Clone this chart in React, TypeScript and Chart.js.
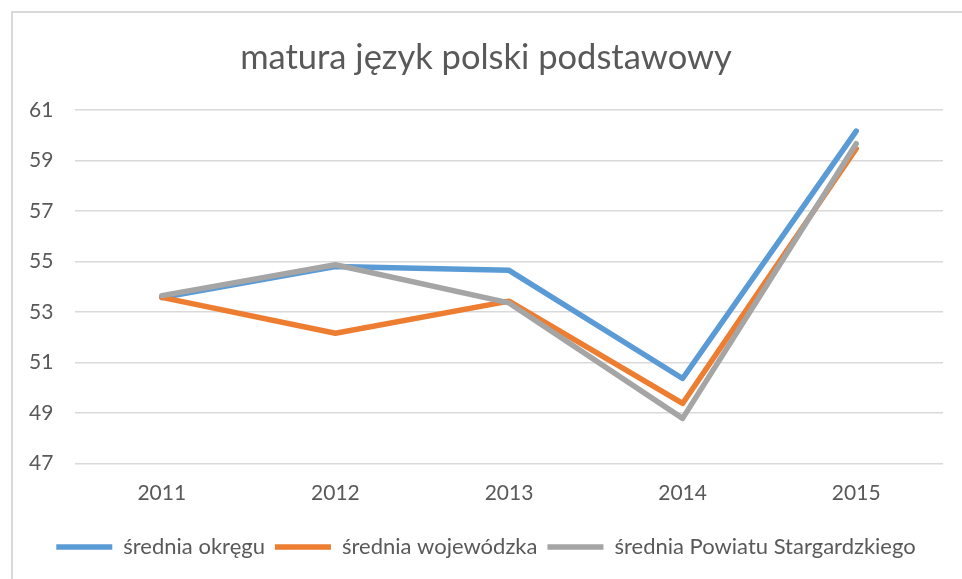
import React, { useEffect, useRef } from "react";
import { Chart, registerables } from "chart.js";

Chart.register(...registerables);

const categories = ["2011", "2012", "2013", "2014", "2015"];
const sredniaOkregu = [53.57, 54.8, 54.65, 50.37, 60.16];
const sredniaWojewodzka = [53.58, 52.16, 53.43, 49.38, 59.46];
const sredniaPowiatu = [53.65, 54.87, 53.36, 48.79, 59.66];
const seriesNames = ["średnia okręgu", "średnia wojewódzka", "średnia Powiatu Stargardzkiego"];
const titleText = "matura język polski podstawowy";
const yMin = 47;
const yMax = 61;
const yStep = 2;

const FONT = "Lato, 'Open Sans', sans-serif";
const TEXT = "#595959";
const GRID = "#d9d9d9";

export default function App() {
  const ref = useRef<HTMLCanvasElement | null>(null);

  useEffect(() => {
    if (!ref.current) return;
    const mk = (label: string, data: number[], color: string, order: number) => ({
      label,
      data,
      borderColor: color,
      backgroundColor: color,
      borderWidth: 5.5,
      borderCapStyle: "round" as const,
      borderJoinStyle: "round" as const,
      pointRadius: 0,
      pointHoverRadius: 0,
      pointStyle: "line" as const,
      tension: 0,
      fill: false,
      order,
    });
    const chart = new Chart(ref.current, {
      type: "line",
      data: {
        labels: categories,
        datasets: [
          mk(seriesNames[0], sredniaOkregu, "#5B9BD5", 3),
          mk(seriesNames[1], sredniaWojewodzka, "#ED7D31", 2),
          mk(seriesNames[2], sredniaPowiatu, "#A5A5A5", 1),
        ],
      },
      options: {
        animation: false,
        responsive: false,
        maintainAspectRatio: false,
        devicePixelRatio: 1,
        layout: { padding: { left: 29, right: 19, top: 0, bottom: 11 } },
        plugins: {
          title: {
            display: true,
            text: titleText,
            color: TEXT,
            font: { family: FONT, size: 34.5, weight: "normal", lineHeight: 1.2 },
            padding: { top: 37, bottom: 31.5 },
          },
          legend: {
            display: true,
            position: "bottom",
            labels: {
              color: TEXT,
              font: { family: FONT, size: 22 },
              usePointStyle: true,
              pointStyleWidth: 56,
              padding: 10,
              sort: (a: any, b: any) => a.datasetIndex - b.datasetIndex,
            },
          },
          tooltip: { enabled: false },
        },
        scales: {
          x: {
            offset: true,
            grid: { display: false, drawTicks: false, offset: true },
            border: { display: false },
            ticks: {
              color: TEXT,
              font: { family: FONT, size: 21 },
              padding: 17,
              maxRotation: 0,
            },
            afterFit: (s: any) => {
              s.height = 62.4;
            },
          },
          y: {
            min: yMin,
            max: yMax,
            grid: { color: GRID, lineWidth: 1.5, drawTicks: false },
            border: { display: false },
            ticks: {
              stepSize: yStep,
              color: TEXT,
              font: { family: FONT, size: 21 },
              padding: 23,
              crossAlign: "far",
            },
            afterFit: (s: any) => {
              s.width = 46;
            },
          },
        },
      },
    });
    return () => chart.destroy();
  }, []);

  return (
    <div style={{ position: "fixed", left: 0, top: 0, width: 962, height: 579, background: "#fff", overflow: "hidden" }}>
      <div
        style={{
          position: "absolute",
          left: 11,
          top: 11,
          width: 980,
          height: 600,
          borderTop: "2px solid #d9d9d9",
          borderLeft: "2px solid #d9d9d9",
          boxSizing: "border-box",
        }}
      />
      <canvas ref={ref} width={962} height={579} style={{ position: "absolute", left: 0, top: 0, width: 962, height: 579 }} />
    </div>
  );
}
